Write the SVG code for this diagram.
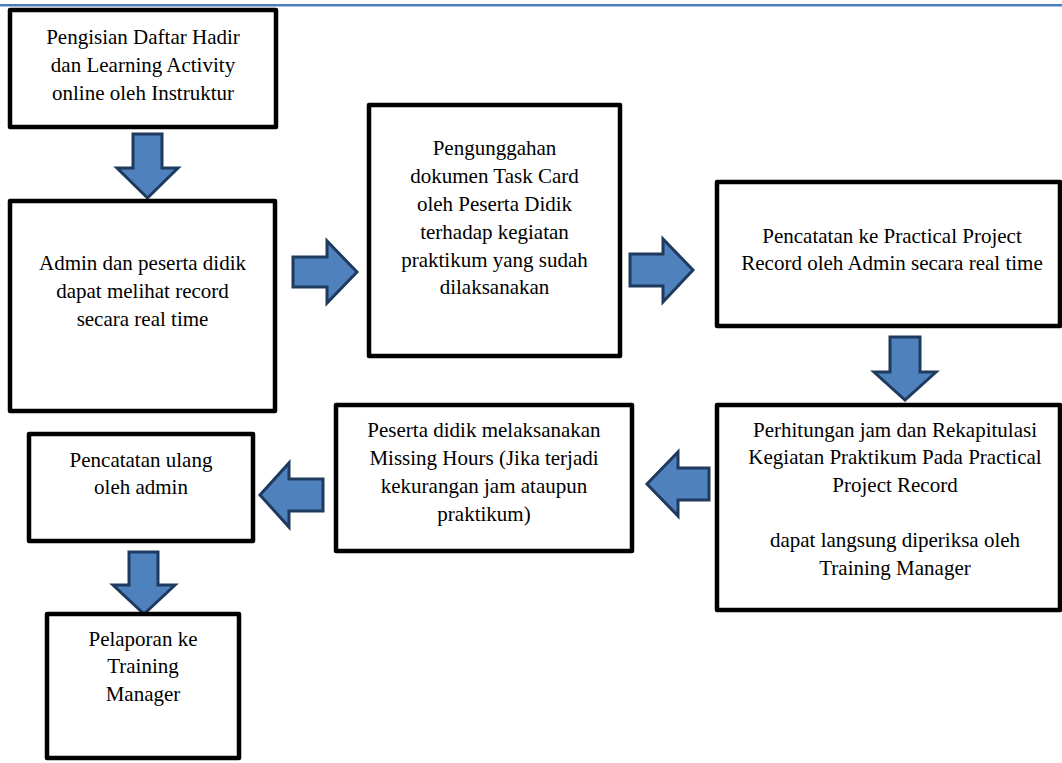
<svg xmlns="http://www.w3.org/2000/svg" width="1062" height="763" viewBox="0 0 1062 763">
<style>
.box{fill:#ffffff;stroke:#000000;stroke-width:4.5;stroke-linejoin:round}
.arr{fill:#4f81bd;stroke:#1f3a5f;stroke-width:3;stroke-linejoin:miter}
text{font-family:"Liberation Serif","Times New Roman",serif;font-size:21px;fill:#000000;text-anchor:middle}
</style>
<rect x="0" y="0" width="1062" height="763" fill="#ffffff"/>
<rect x="0" y="4" width="1062" height="2" fill="#4a7ebb"/>
<rect x="0" y="6" width="1062" height="1" fill="#a7c0e0"/>
<g id="connectors">
<polygon class="arr" points="133,134 162,134 162,168 178,168 147.5,198 117,168 133,168"/>
<polygon class="arr" points="293,257 327,257 327,241 357,272 327,303 327,287 293,287"/>
<polygon class="arr" points="630,254 663,254 663,239 693,270 663,302 663,286 630,286"/>
<polygon class="arr" points="890,337 920,337 920,372 936,372 905,400 874,372 890,372"/>
<polygon class="arr" points="709,468 678,468 678,452 647,484 678,516 678,500 709,500"/>
<polygon class="arr" points="323,479 289,479 289,463 260,495 289,527 289,511 323,511"/>
<polygon class="arr" points="129,552 158,552 158,585 175,585 144,614 113,585 129,585"/>
</g>
<g id="n1">
<rect class="box" x="10" y="10" width="266" height="117"/>
<text x="143" y="43.5">Pengisian Daftar Hadir</text>
<text x="143" y="71.5">dan Learning Activity</text>
<text x="143" y="99.5">online oleh Instruktur</text>
</g>
<g id="n2">
<rect class="box" x="10" y="201" width="265" height="210"/>
<text x="142.5" y="270">Admin dan peserta didik</text>
<text x="142.5" y="298">dapat melihat record</text>
<text x="142.5" y="326">secara real time</text>
</g>
<g id="n3">
<rect class="box" x="369" y="105" width="251" height="251"/>
<text x="494.5" y="155">Pengunggahan</text>
<text x="494.5" y="183">dokumen Task Card</text>
<text x="494.5" y="211">oleh Peserta Didik</text>
<text x="494.5" y="239">terhadap kegiatan</text>
<text x="494.5" y="267">praktikum yang sudah</text>
<text x="494.5" y="294">dilaksanakan</text>
</g>
<g id="n4">
<rect class="box" x="717" y="182" width="343" height="144"/>
<text x="892" y="243">Pencatatan ke Practical Project</text>
<text x="892" y="270">Record oleh Admin secara real time</text>
</g>
<g id="n5">
<rect class="box" x="717" y="405" width="343" height="205"/>
<text x="895" y="437">Perhitungan jam dan Rekapitulasi</text>
<text x="895" y="464">Kegiatan Praktikum Pada Practical</text>
<text x="895" y="492">Project Record</text>
<text x="895" y="547">dapat langsung diperiksa oleh</text>
<text x="895" y="575">Training Manager</text>
</g>
<g id="n6">
<rect class="box" x="336" y="405" width="296" height="146"/>
<text x="484" y="437">Peserta didik melaksanakan</text>
<text x="484" y="465">Missing Hours (Jika terjadi</text>
<text x="484" y="493">kekurangan jam ataupun</text>
<text x="484" y="521">praktikum)</text>
</g>
<g id="n7">
<rect class="box" x="29" y="434" width="224" height="107"/>
<text x="141" y="467">Pencatatan ulang</text>
<text x="141" y="494">oleh admin</text>
</g>
<g id="n8">
<rect class="box" x="47" y="614" width="192" height="144"/>
<text x="143" y="646">Pelaporan ke</text>
<text x="143" y="673">Training</text>
<text x="143" y="701">Manager</text>
</g>
</svg>
